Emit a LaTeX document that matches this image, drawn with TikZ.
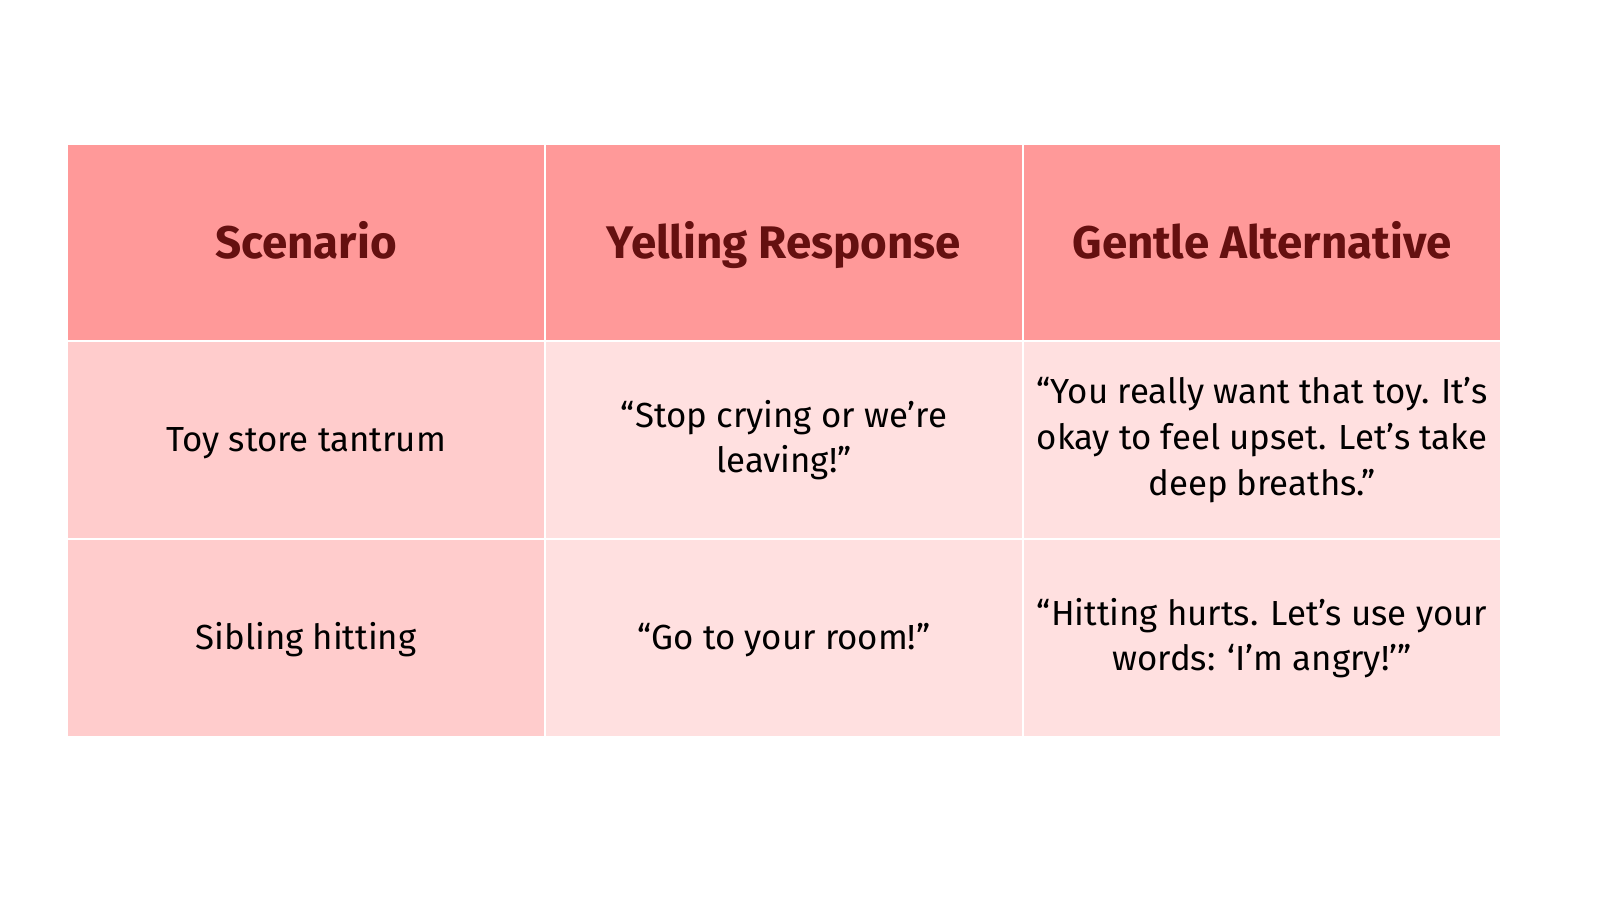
\documentclass[tikz,border=0pt]{standalone}
\usepackage{fontspec}
\setmainfont{Fira Sans}
\definecolor{headred}{HTML}{FF9999}
\definecolor{firstpink}{HTML}{FFCCCC}
\definecolor{cellpink}{HTML}{FFE0E0}
\definecolor{headtext}{HTML}{651010}
\tikzset{
	cell/.style={minimum width=4.76cm, minimum height=1.96cm, inner sep=0pt, align=center, font=\fontsize{9.9pt}{13pt}\selectfont},
	oneline/.style={text height=1.5ex, text depth=.25ex},
	headcell/.style={cell, fill=headred, minimum height=1.95cm, text height=2ex, text depth=.25ex, text=headtext, font=\bfseries\fontsize{13pt}{15pt}\selectfont},
}

\begin{document}
\begin{tikzpicture}[x=0.01cm, y=-0.01cm]
\useasboundingbox[fill=white] (0,0) rectangle (1600,900);
% header row
\node[headcell] (scen) at (306, 242.5) {Scenario};
\node[headcell] (yell) at (784, 242.5) {Yelling Response};
\node[headcell] (gent) at (1262, 242.5) {Gentle Alternative};
% first row
\node[cell, oneline, fill=firstpink] (toy) at (306, 440) {Toy store tantrum};
\node[cell, fill=cellpink] (toyyell) at (784, 440) {“Stop crying or we’re\\leaving!”};
\node[cell, fill=cellpink] (toygent) at (1262, 440) {“You really want that toy. It’s\\okay to feel upset. Let’s take\\deep breaths.”};
% second row
\node[cell, oneline, fill=firstpink] (sib) at (306, 638) {Sibling hitting};
\node[cell, oneline, fill=cellpink] (sibyell) at (784, 638) {“Go to your room!”};
\node[cell, fill=cellpink] (sibgent) at (1262, 638) {“Hitting hurts. Let’s use your\\words: ‘I’m angry!’”};
\end{tikzpicture}
\end{document}
